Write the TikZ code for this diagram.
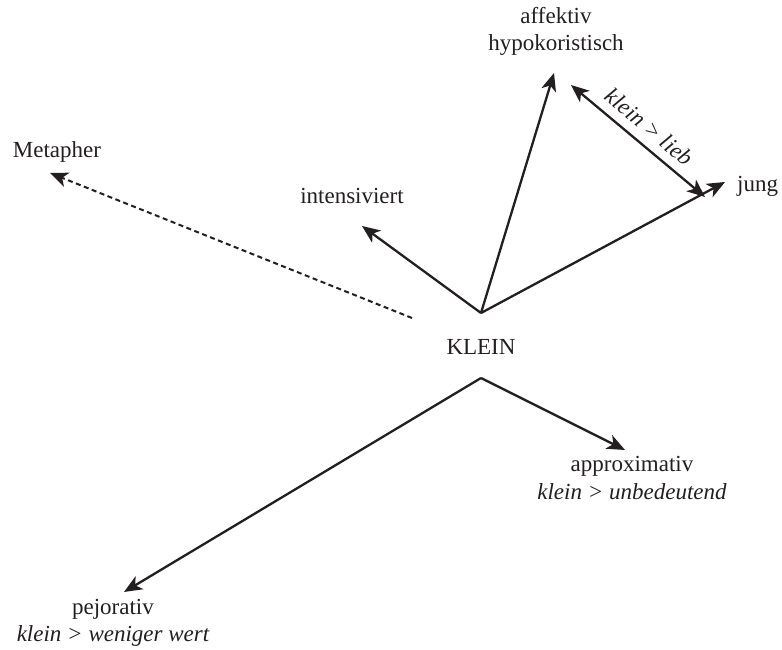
\documentclass[tikz,border=0pt]{standalone}
\usepackage{fontspec}
\setmainfont{Liberation Serif}
\usetikzlibrary{arrows.meta}
\definecolor{ink}{HTML}{231F20}
\begin{document}
\begin{tikzpicture}[x=1pt,y=-1pt,
  txt/.style={inner sep=0pt, text=ink, font=\fontsize{23}{28}\selectfont},
  itxt/.style={txt, font=\fontsize{23}{28}\selectfont\itshape},
  conn/.style={draw=ink, line width=2.3pt, line join=miter},
  arr/.style={conn, -{Stealth[length=18pt,width=15pt,inset=5pt]}},
  darr/.style={conn, {Stealth[length=18pt,width=15pt,inset=5pt]}-{Stealth[length=18pt,width=15pt,inset=5pt]}},
  dsh/.style={arr, dash pattern=on 5pt off 3.5pt, line width=2pt}]
\useasboundingbox (0,0) rectangle (782,650);

% text nodes
\node[txt, anchor=base] (klein) at (481,354) {KLEIN};
\node[txt, anchor=base] (aff1) at (556,24) {affektiv};
\node[txt, anchor=base] (aff2) at (556,51) {hypokoristisch};
\node[txt, anchor=base west] (jung) at (737,191) {jung};
\node[txt, anchor=base] (int) at (352,204) {intensiviert};
\node[txt, anchor=base] (meta) at (57,158) {Metapher};
\node[txt, anchor=base] (appr1) at (632,471) {approximativ};
\node[itxt, anchor=base] (appr2) at (632,499) {klein > unbedeutend};
\node[txt, anchor=base] (pej1) at (113,614) {pejorativ};
\node[itxt, anchor=base] (pej2) at (113,641) {klein > weniger wert};

% connector points
\coordinate (T) at (481,313);
\coordinate (B) at (481,378);
\coordinate (tAff) at (554,73);
\coordinate (tJung) at (725,182);
\coordinate (tInt) at (362,226);
\coordinate (sMeta) at (412,318);
\coordinate (tMeta) at (50,173);
\coordinate (tAppr) at (625,450);
\coordinate (tPej) at (124,592);
\coordinate (dA) at (571,85);
\coordinate (dB) at (705,197);

% connectors
\draw[arr] (T) -- (tAff);
\draw[arr] (T) -- (tJung);
\draw[arr] (T) -- (tInt);
\draw[dsh] (sMeta) -- (tMeta);
\draw[arr] (B) -- (tAppr);
\draw[arr] (B) -- (tPej);
\draw[darr] (dA) -- node[itxt, midway, sloped, above=9pt] (lieb) {klein > lieb} (dB);
\end{tikzpicture}
\end{document}
